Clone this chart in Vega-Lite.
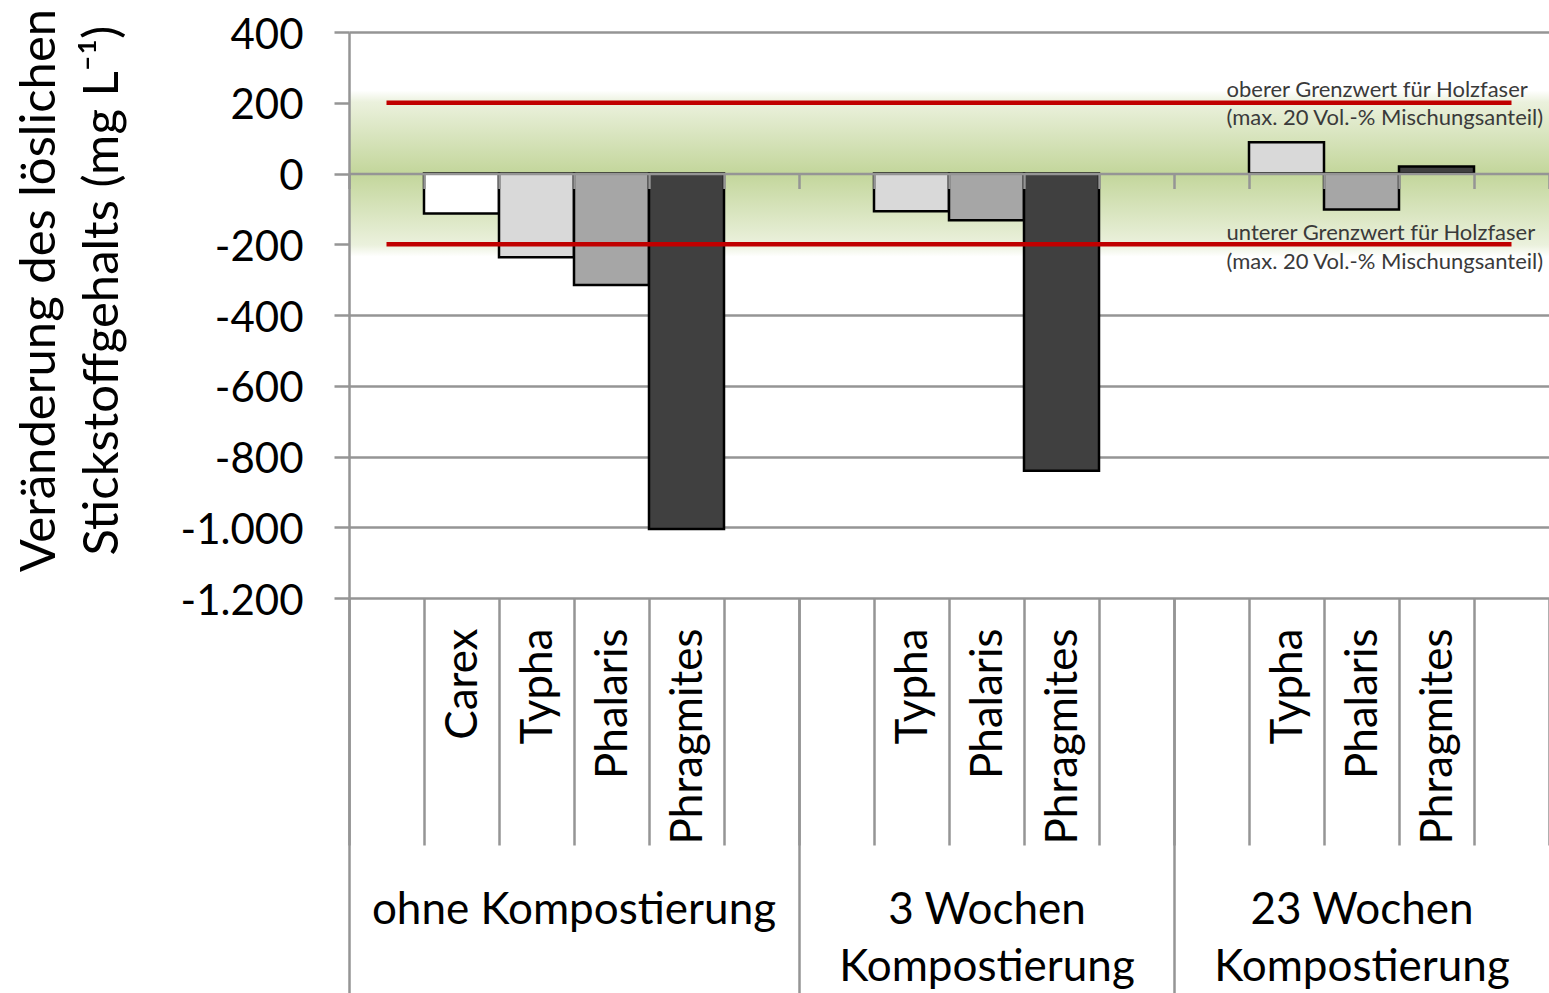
{
  "$schema": "https://vega.github.io/schema/vega-lite/v6.json",
  "width": 1200,
  "height": 566,
  "autosize": "none",
  "padding": {"left": 349, "top": 32, "right": 0, "bottom": 395},
  "background": "white",
  "config": {
    "view": {"stroke": null},
    "font": "Lato",
    "axis": {"labelFont": "Lato", "titleFont": "Lato", "labelColor": "black", "titleColor": "black"}
  },
  "resolve": {"axis": {"x": "independent", "y": "independent"}},
  "encoding": {
    "y": {
      "field": "value", "type": "quantitative",
      "scale": {"domain": [-1200, 400], "nice": false},
      "axis": null
    }
  },
  "layer": [
    {
      "data": {"values": [{"value": 235, "value2": -235}]},
      "mark": {
        "type": "rect",
        "color": {
          "gradient": "linear", "x1": 0, "y1": 0, "x2": 0, "y2": 1,
          "stops": [
            {"offset": 0, "color": "#ffffff"},
            {"offset": 0.07, "color": "#ebf1dd"},
            {"offset": 0.5, "color": "#c3d69b"},
            {"offset": 0.93, "color": "#ebf1dd"},
            {"offset": 1, "color": "#ffffff"}
          ]
        }
      },
      "encoding": {
        "y": {
          "field": "value", "type": "quantitative",
          "scale": {"domain": [-1200, 400], "nice": false},
          "axis": {
            "orient": "left", "zindex": 0,
            "values": [-1200, -1000, -800, -600, -400, -200, 0, 200, 400],
            "grid": true, "gridColor": "#959595", "gridWidth": 2.5,
            "domain": false, "ticks": false, "labels": false, "title": null
          }
        },
        "y2": {"field": "value2"}
      }
    },
    {
      "data": {
        "values": [
          {"slot": "A1|Carex", "group": "ohne Kompostierung", "species": "Carex", "value": -113},
          {"slot": "A2|Typha", "group": "ohne Kompostierung", "species": "Typha", "value": -237},
          {"slot": "A3|Phalaris", "group": "ohne Kompostierung", "species": "Phalaris", "value": -315},
          {"slot": "A4|Phragmites", "group": "ohne Kompostierung", "species": "Phragmites", "value": -1005},
          {"slot": "B1|Typha", "group": "3 Wochen Kompostierung", "species": "Typha", "value": -107},
          {"slot": "B2|Phalaris", "group": "3 Wochen Kompostierung", "species": "Phalaris", "value": -132},
          {"slot": "B3|Phragmites", "group": "3 Wochen Kompostierung", "species": "Phragmites", "value": -840},
          {"slot": "C1|Typha", "group": "23 Wochen Kompostierung", "species": "Typha", "value": 88},
          {"slot": "C2|Phalaris", "group": "23 Wochen Kompostierung", "species": "Phalaris", "value": -102},
          {"slot": "C3|Phragmites", "group": "23 Wochen Kompostierung", "species": "Phragmites", "value": 20}
        ]
      },
      "mark": {"type": "bar", "stroke": "black", "strokeWidth": 2.5},
      "encoding": {
        "x": {
          "field": "slot", "type": "ordinal",
          "scale": {
            "domain": ["A0|", "A1|Carex", "A2|Typha", "A3|Phalaris", "A4|Phragmites", "A5|", "B0|", "B1|Typha", "B2|Phalaris", "B3|Phragmites", "B4|", "C0|", "C1|Typha", "C2|Phalaris", "C3|Phragmites", "C4|"],
            "paddingInner": 0, "paddingOuter": 0
          },
          "axis": {
            "orient": "bottom", "title": null, "domain": false, "grid": false,
            "tickBand": "extent", "tickSize": 247, "tickColor": "#959595", "tickWidth": 2.5,
            "labelExpr": "split(datum.value, '|')[1]",
            "labelAngle": 270, "labelAlign": "right", "labelBaseline": "middle",
            "labelPadding": -217, "labelFontSize": 44, "labelLimit": 0, "labelOffset": 2
          }
        },
        "color": {
          "field": "species", "type": "nominal",
          "scale": {"domain": ["Carex", "Typha", "Phalaris", "Phragmites"], "range": ["#ffffff", "#d9d9d9", "#a6a6a6", "#404040"]},
          "legend": null
        }
      }
    },
    {
      "data": {
        "values": [
          {"from": "A0|", "to": "C4|", "value": 200},
          {"from": "A0|", "to": "C4|", "value": -200}
        ]
      },
      "mark": {"type": "rule", "color": "#c00000", "strokeWidth": 4.5},
      "encoding": {
        "x": {
          "field": "from", "type": "ordinal",
          "scale": {
            "domain": ["A0|", "A1|Carex", "A2|Typha", "A3|Phalaris", "A4|Phragmites", "A5|", "B0|", "B1|Typha", "B2|Phalaris", "B3|Phragmites", "B4|", "C0|", "C1|Typha", "C2|Phalaris", "C3|Phragmites", "C4|"],
            "paddingInner": 0, "paddingOuter": 0
          },
          "axis": {
            "orient": "bottom", "title": null, "domain": false, "grid": false,
            "values": ["A0|", "B0|", "C0|"], "bandPosition": 0,
            "tickSize": 395, "tickColor": "#959595", "tickWidth": 2.5,
            "labelExpr": "datum.value === 'A0|' ? 'ohne Kompostierung' : datum.value === 'B0|' ? ['3 Wochen', 'Kompostierung'] : ['23 Wochen', 'Kompostierung']",
            "labelOffset": {"condition": {"test": "datum.value === 'A0|'", "value": 187.5}, "value": 150.5},
            "labelAngle": 0, "labelAlign": "center", "labelBaseline": "top",
            "labelPadding": -105, "labelFontSize": 44, "labelLineHeight": 57, "labelLimit": 0
          }
        },
        "x2": {"field": "to"}
      }
    },
    {
      "data": {
        "values": [
          {"slot": "C0|", "value": 215, "label": "oberer Grenzwert für Holzfaser"},
          {"slot": "C0|", "value": 136, "label": "(max. 20 Vol.-% Mischungsanteil)"},
          {"slot": "C0|", "value": -189, "label": "unterer Grenzwert für Holzfaser"},
          {"slot": "C0|", "value": -269, "label": "(max. 20 Vol.-% Mischungsanteil)"}
        ]
      },
      "mark": {"type": "text", "align": "left", "baseline": "alphabetic", "fontSize": 22, "color": "#3a3a3a", "font": "Lato"},
      "encoding": {
        "x": {
          "field": "slot", "type": "ordinal", "bandPosition": 0.7,
          "scale": {
            "domain": ["A0|", "A1|Carex", "A2|Typha", "A3|Phalaris", "A4|Phragmites", "A5|", "B0|", "B1|Typha", "B2|Phalaris", "B3|Phragmites", "B4|", "C0|", "C1|Typha", "C2|Phalaris", "C3|Phragmites", "C4|"],
            "paddingInner": 0, "paddingOuter": 0
          },
          "axis": {
            "orient": "bottom", "title": null, "grid": false, "offset": -424.5, "zindex": 1,
            "domainColor": "#959595", "domainWidth": 2.5,
            "tickBand": "extent", "tickSize": 15, "tickColor": "#959595", "tickWidth": 2.5,
            "labels": false
          }
        },
        "y": {
          "field": "value", "type": "quantitative",
          "scale": {"domain": [-1200, 400], "nice": false},
          "axis": {
            "orient": "left", "zindex": 1, "grid": false,
            "values": [-1200, -1000, -800, -600, -400, -200, 0, 200, 400],
            "labelExpr": "replace(replace(format(datum.value, ','), ',', '.'), '\u2212', '-')",
            "domainColor": "#959595", "domainWidth": 2.5,
            "tickColor": "#959595", "tickWidth": 2.5, "tickSize": 15,
            "labelFontSize": 42, "labelPadding": 31, "labelOffset": 3,
            "title": ["Veränderung des löslichen", "Stickstoffgehalts (mg L⁻¹)"],
            "titleFontSize": 49, "titleFontWeight": "normal", "titleLineHeight": 63,
            "titleAngle": 270, "titleAlign": "center", "titleBaseline": "top",
            "titleX": -334, "titleY": 258
          }
        },
        "text": {"field": "label"}
      }
    }
  ]
}
